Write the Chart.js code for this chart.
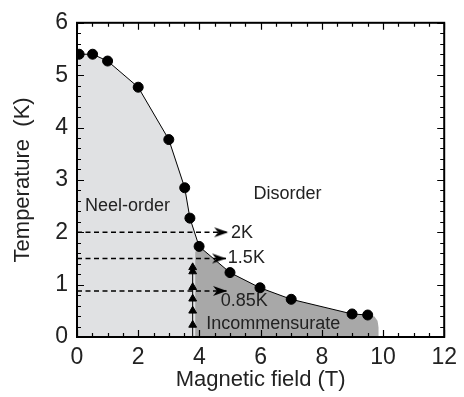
<!DOCTYPE html>
<html>
<head>
<meta charset="utf-8">
<script src="https://cdn.jsdelivr.net/npm/chart.js@4/dist/chart.umd.min.js"></script>
<style>
  html, body { margin: 0; padding: 0; background: #fff; }
  #wrap { width: 464px; height: 397px; }
</style>
</head>
<body>
<div id="wrap"><canvas id="chart" width="464" height="397"></canvas></div>
<script>
// phase boundary (circles)
const fieldT = [0.07, 0.51, 1.0, 2.0, 3.0, 3.52, 3.69, 3.99, 5.0, 5.98, 7.0, 8.99, 9.5];
const tempK  = [5.40, 5.40, 5.27, 4.77, 3.77, 2.85, 2.27, 1.73, 1.23, 0.94, 0.72, 0.44, 0.42];

// triangles on the vertical line
const triField = 3.78;
const triTemp  = [0.23, 0.50, 0.73, 0.95, 1.25, 1.33];
const triLineTemp = [0, 1.33];

// shaded regions
const neelField = [0, 0.07, 0.51, 1.0, 2.0, 3.0, 3.52, 3.69, 3.99, 3.99];
const neelTemp  = [5.40, 5.40, 5.40, 5.27, 4.77, 3.77, 2.85, 2.27, 1.73, 0];
const incField = [3.86, 3.86, 3.99, 5.0, 5.98, 7.0, 8.99, 9.5, 9.72, 9.82, 9.86, 9.86];
const incTemp  = [0, 1.62, 1.73, 1.23, 0.94, 0.72, 0.44, 0.42, 0.39, 0.31, 0.18, 0];

// dashed arrows (scan temperatures)
const arrowTemp = [2.0, 1.5, 0.88];
const arrowTip  = [4.94, 4.87, 4.90];

// tick labels
const xTicks = [0, 2, 4, 6, 8, 10, 12];
const yTicks = [0, 1, 2, 3, 4, 5, 6];

// text inside the plot: [text, field, temp]
const notes = [
  ['Neel-order', 0.26, 2.50],
  ['Disorder', 5.77, 2.73],
  ['2K', 5.03, 1.99],
  ['1.5K', 4.93, 1.50],
  ['0.85K', 4.70, 0.68],
  ['Incommensurate', 4.22, 0.25]
];

const FONT = '"Liberation Sans", Arial, Helvetica, sans-serif';
const LIGHT = '#e0e1e3';
const DARK = '#a8a8a8';

function pts(xs, ys) { return xs.map((x, i) => ({ x: x, y: ys[i] })); }

// arrowhead image, tip at the centre
const arrowImg = document.createElement('canvas');
arrowImg.width = 32; arrowImg.height = 12;
(function () {
  const c = arrowImg.getContext('2d');
  c.fillStyle = '#000';
  c.beginPath();
  c.moveTo(16, 6); c.lineTo(2, 1); c.lineTo(6, 6); c.lineTo(2, 11);
  c.closePath(); c.fill();
})();

const arrowSets = arrowTemp.map((t, i) => ({
  data: [{ x: 0, y: t }, { x: arrowTip[i], y: t }],
  showLine: true,
  borderColor: '#000',
  borderWidth: 1.5,
  borderDash: [5, 3.5],
  pointRadius: [0, 6],
  pointStyle: arrowImg,
  order: 5
}));

// inward ticks + frame
const framePlugin = {
  id: 'frame',
  afterDraw(chart) {
    const { ctx, chartArea: a, scales } = chart;
    const xs = scales.x, ys = scales.y;
    ctx.save();
    ctx.strokeStyle = '#000';
    ctx.lineWidth = 1.2;
    ctx.beginPath();
    for (let v = 0; v <= 12.001; v += 0.5) {
      const px = Math.round(xs.getPixelForValue(v)) + 0.5;
      const len = Math.abs(v % 2) < 0.01 ? 7 : 4;
      ctx.moveTo(px, a.bottom); ctx.lineTo(px, a.bottom - len);
      ctx.moveTo(px, a.top); ctx.lineTo(px, a.top + len);
    }
    for (let k = 0; k <= 30; k++) {
      const v = k * 0.2;
      const py = Math.round(ys.getPixelForValue(v)) + 0.5;
      const len = k % 5 === 0 ? 7 : 4;
      ctx.moveTo(a.left, py); ctx.lineTo(a.left + len, py);
      ctx.moveTo(a.right, py); ctx.lineTo(a.right - len, py);
    }
    ctx.stroke();
    ctx.lineWidth = 2;
    ctx.strokeRect(a.left, a.top, a.right - a.left, a.bottom - a.top);
    ctx.restore();
  }
};

// region and arrow labels
const notesPlugin = {
  id: 'notes',
  afterDatasetsDraw(chart) {
    const { ctx, scales } = chart;
    ctx.save();
    ctx.fillStyle = '#222';
    ctx.font = '18px ' + FONT;
    ctx.textAlign = 'left';
    ctx.textBaseline = 'middle';
    notes.forEach(n => {
      ctx.fillText(n[0], scales.x.getPixelForValue(n[1]), scales.y.getPixelForValue(n[2]));
    });
    ctx.restore();
  }
};

new Chart(document.getElementById('chart').getContext('2d'), {
  type: 'scatter',
  data: {
    datasets: [
      { data: pts(neelField, neelTemp), showLine: true, borderWidth: 0, borderColor: 'rgba(0,0,0,0)',
        backgroundColor: LIGHT, fill: 'origin', pointRadius: 0, order: 10 },
      { data: pts(incField, incTemp), showLine: true, borderWidth: 0, borderColor: 'rgba(0,0,0,0)',
        backgroundColor: DARK, fill: 'origin', pointRadius: 0, order: 9 },
      ...arrowSets,
      { data: triLineTemp.map(t => ({ x: triField, y: t })), showLine: true, borderColor: '#000',
        borderWidth: 1, pointRadius: 0, order: 4 },
      { data: pts(fieldT, tempK), showLine: true, borderColor: '#000', borderWidth: 1,
        pointRadius: 5, pointBackgroundColor: '#000', pointBorderColor: '#000', order: 2 },
      { data: triTemp.map(t => ({ x: triField, y: t })), showLine: false, pointStyle: 'triangle',
        pointRadius: 4.5, pointBackgroundColor: '#000', pointBorderColor: '#000', order: 1 }
    ]
  },
  options: {
    responsive: false,
    animation: false,
    events: [],
    layout: { padding: { left: 0, top: 21, right: 17, bottom: 0 } },
    plugins: { legend: { display: false }, tooltip: { enabled: false } },
    scales: {
      x: {
        type: 'linear', min: 0, max: 12,
        afterFit(s) { s.height = 60; },
        afterBuildTicks(s) { s.ticks = xTicks.map(v => ({ value: v })); },
        grid: { display: false, drawTicks: false },
        border: { display: false },
        ticks: { color: '#222', font: { family: FONT, size: 23 }, padding: 7, maxRotation: 0 },
        title: { display: true, text: 'Magnetic field (T)', color: '#222',
                 font: { family: FONT, size: 22 }, padding: { top: 0, bottom: 4 } }
      },
      y: {
        type: 'linear', min: 0, max: 6,
        afterFit(s) { s.width = 77; },
        afterBuildTicks(s) { s.ticks = yTicks.map(v => ({ value: v })); },
        grid: { display: false, drawTicks: false },
        border: { display: false },
        ticks: { color: '#222', font: { family: FONT, size: 23 }, padding: 9 },
        title: { display: true, text: 'Temperature  (K)', color: '#222',
                 font: { family: FONT, size: 22 }, padding: { top: 10, bottom: 0 } }
      }
    }
  },
  plugins: [framePlugin, notesPlugin]
});
</script>
</body>
</html>
